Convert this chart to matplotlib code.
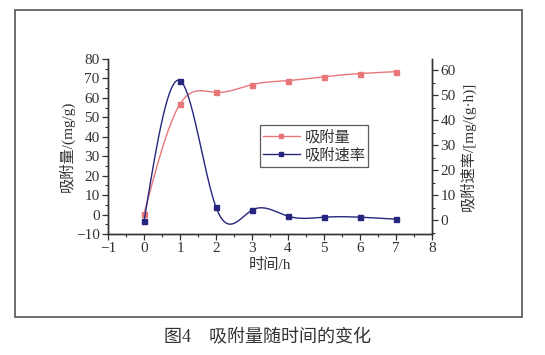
import numpy as np
import matplotlib
matplotlib.use("Agg")
import matplotlib.pyplot as plt
from matplotlib.patches import Rectangle
from matplotlib.ticker import MultipleLocator
from matplotlib.lines import Line2D

plt.rcParams['font.family'] = ['Liberation Serif', 'Noto Sans CJK SC', 'DejaVu Sans']
plt.rcParams['axes.unicode_minus'] = True

time_h = [0, 1, 2, 3, 4, 5, 6, 7]
adsorption = [0.3, 56.8, 62.8, 66.8, 68.9, 70.9, 72.5, 73.5]
rate = [-0.4, 55.8, 5.3, 4.1, 1.7, 1.3, 1.3, 0.5]

MIX = ['Liberation Serif', 'Noto Sans CJK SC', 'DejaVu Sans']
CJK = ['Noto Sans CJK SC', 'DejaVu Sans']


def natural_spline(x, y, n=300):
    x = np.asarray(x, float)
    y = np.asarray(y, float)
    k = len(x)
    h = np.diff(x)
    A = np.zeros((k, k))
    b = np.zeros(k)
    A[0, 0] = 1
    A[-1, -1] = 1
    for i in range(1, k - 1):
        A[i, i - 1] = h[i - 1]
        A[i, i] = 2 * (h[i - 1] + h[i])
        A[i, i + 1] = h[i]
        b[i] = 3 * ((y[i + 1] - y[i]) / h[i] - (y[i] - y[i - 1]) / h[i - 1])
    c = np.linalg.solve(A, b)
    xs = np.linspace(x[0], x[-1], n)
    ys = np.empty_like(xs)
    for j, xv in enumerate(xs):
        i = min(np.searchsorted(x, xv, side='right') - 1, k - 2)
        dx = xv - x[i]
        bb = (y[i + 1] - y[i]) / h[i] - h[i] * (2 * c[i] + c[i + 1]) / 3
        dd = (c[i + 1] - c[i]) / (3 * h[i])
        ys[j] = y[i] + bb * dx + c[i] * dx ** 2 + dd * dx ** 3
    return xs, ys


fig = plt.figure(figsize=(5.45, 3.55), dpi=100)
ax = fig.add_axes([108 / 545, 1 - 234 / 355, 324 / 545, 175 / 355])
ax2 = ax.twinx()

red = '#e8777a'
blue = '#26267e'

xs, ys = natural_spline(time_h, adsorption)
ax.plot(xs, ys, color=red, lw=1.0)
ax.plot(time_h, adsorption, ls='none', marker='s', ms=3.6, color=red)

xs2, ys2 = natural_spline(time_h, rate)
ax2.plot(xs2, ys2, color=blue, lw=1.0)
ax2.plot(time_h, rate, ls='none', marker='s', ms=3.6, color=blue)

ax.set_xlim(-1, 8)
ax.set_ylim(-10, 80)
ax2.set_ylim(-5.4, 64.4)
ax.xaxis.set_major_locator(MultipleLocator(1))
ax.xaxis.set_minor_locator(MultipleLocator(0.5))
ax.yaxis.set_major_locator(MultipleLocator(10))
ax.yaxis.set_minor_locator(MultipleLocator(5))
ax2.yaxis.set_major_locator(MultipleLocator(10))
ax2.yaxis.set_minor_locator(MultipleLocator(5))
ax2.set_yticks([0, 10, 20, 30, 40, 50, 60])

for a in (ax, ax2):
    a.spines['top'].set_visible(False)
    for s in a.spines.values():
        s.set_color('#333333')
        s.set_linewidth(1.0)
    a.tick_params(which='major', length=4, width=0.9, color='#333333',
                  labelsize=11, labelcolor='#333333', pad=2)
    a.tick_params(which='minor', length=2.5, width=0.8, color='#333333')

ax.set_xlabel('时间/h', fontsize=11, color='#333333', family=MIX, labelpad=2)
ax.set_ylabel('吸附量/(mg/g)', fontsize=11, color='#333333', family=MIX, labelpad=1)
ax2.set_ylabel('吸附速率/[mg/(g·h)]', fontsize=11, color='#333333', family=MIX, labelpad=3)

handles = [Line2D([], [], color=red, lw=1.0, marker='s', ms=3),
           Line2D([], [], color=blue, lw=1.0, marker='s', ms=3)]
leg = ax.legend(handles, ['吸附量', '吸附速率'], loc='upper left',
                bbox_to_anchor=((260 - 108) / 324, 1 - (125 - 59) / 175),
                prop={'family': CJK, 'size': 11}, frameon=True, fancybox=False,
                edgecolor='#333333', borderpad=0.2, handlelength=2.4,
                handletextpad=0.3, labelspacing=0.1, borderaxespad=0)
leg.get_frame().set_linewidth(0.9)
for t in leg.get_texts():
    t.set_color('#333333')

fig.patches.append(Rectangle((15 / 545, 1 - 317 / 355), 507 / 545, 307 / 355,
                             transform=fig.transFigure, fill=False,
                             edgecolor='#555555', lw=1.2))
fig.text(268 / 545, 1 - 338 / 355, '图4　吸附量随时间的变化', ha='center', va='center',
         fontsize=13, color='#333333', family=MIX)

fig.savefig('out.png', dpi=100)
